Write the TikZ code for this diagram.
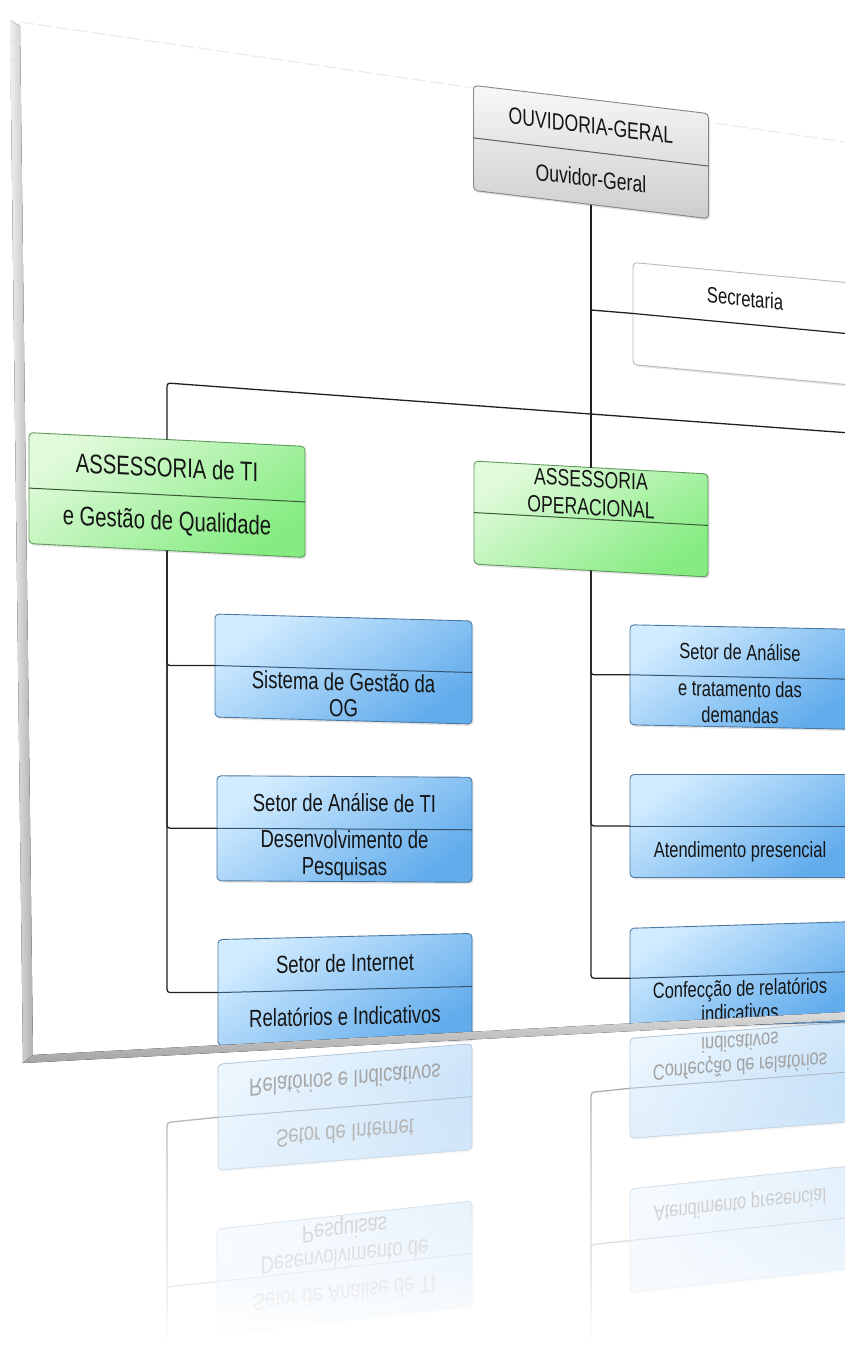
\documentclass[tikz,border=0pt]{standalone}
\usepackage{fontspec}
\setmainfont{Liberation Sans}[FakeStretch=0.75]
\usetikzlibrary{shadows}
\definecolor{txtc}{HTML}{151515}
\definecolor{linec}{HTML}{202020}
\definecolor{blueL}{HTML}{D2ECFF}
\definecolor{blueD}{HTML}{62ACEC}
\definecolor{blueB}{HTML}{4A78A2}
\definecolor{greenL}{HTML}{E0FADA}
\definecolor{greenD}{HTML}{86EC82}
\definecolor{greenB}{HTML}{5E985A}
\definecolor{grayL}{HTML}{F8F8F8}
\definecolor{grayD}{HTML}{CDCDCD}
\definecolor{grayB}{HTML}{858585}
\tikzset{
  conn/.style={draw=linec, line width=1.3pt, rounded corners=3pt},
  txtbase/.style={transform shape, align=center, text=txtc, inner sep=0pt},
  fsz/.style 2 args={txt/.style={txtbase, font=\fontsize{#1}{#2}\selectfont}},
  shadowed/.style={drop shadow={opacity=0.2, shadow xshift=1.5pt, shadow yshift=-2pt}},
  bluebox/.style={
    box/.style={shadowed, draw=blueB, line width=0.9pt, rounded corners=4pt,
      top color=blueL, bottom color=blueD, shading angle=35, inner sep=0pt, outer sep=0pt},
    divider/.style={draw=blueB!70!black, line width=1pt}},
  greenbox/.style={
    box/.style={shadowed, draw=greenB, line width=0.9pt, rounded corners=4pt,
      top color=greenL, bottom color=greenD, shading angle=35, inner sep=0pt, outer sep=0pt},
    divider/.style={draw=greenB!60!black, line width=1pt}},
  graybox/.style={
    box/.style={shadowed, draw=grayB, line width=0.9pt, rounded corners=4pt,
      top color=grayL, bottom color=grayD, inner sep=0pt, outer sep=0pt},
    divider/.style={draw=grayB!70!black, line width=1pt}},
  whitebox/.style={
    box/.style={shadowed, draw=gray!55, line width=0.9pt, rounded corners=4pt,
      fill=white, inner sep=0pt, outer sep=0pt},
    divider/.style={draw=linec, line width=1.2pt}},
}
% #1 name, #2 x, #3 y, #4 width, #5 height, #6 yslant, #7 styles, #8 top text, #9 bottom text
\newcommand{\obox}[9]{%
  \begin{scope}[shift={(#2,#3)}, yslant=#6, #7]
    \node[box, transform shape, minimum width=#4pt, minimum height=#5pt] (#1) at (0,0) {};
    \draw[divider] (-#4/2,0) -- (#4/2,0);
    \if\relax\detokenize{#8}\relax\else\node[txt] (#1t) at (0,-#5/4) {#8};\fi
    \if\relax\detokenize{#9}\relax\else\node[txt] (#1b) at (0,#5/4) {#9};\fi
  \end{scope}}
% boxes in the lower part (also shown in the reflection)
\newcommand{\lowerboxes}[1]{%
  \obox{#1sa}{344.5}{829}{255}{105}{-0.006}{bluebox,fsz={24.7}{27}}{Setor de Análise de TI}{Desenvolvimento de\\Pesquisas}%
  \obox{#1si}{345}{989.5}{254}{106}{0.024}{bluebox,fsz={24.7}{27}}{Setor de Internet}{Relatórios e Indicativos}%
  \obox{#1at}{740}{826}{220}{103}{0}{bluebox,fsz={22}{25}}{}{Atendimento presencial}%
  \obox{#1cr}{740}{975}{220}{100}{0.03}{bluebox,fsz={22}{24}}{}{Confecção de relatórios\\indicativos}%
}
\begin{document}
\begin{tikzpicture}[x=1pt, y=-1pt]
  \fill[white] (0,0) rectangle (845,1345);
  \useasboundingbox (0,0) rectangle (845,1345);
  % faint top edge of the sheet
  \draw[gray!15, line width=1.2pt, dash pattern=on 14pt off 4pt] (20,22) -- (845,142);
  % main chart
  \obox{ouv}{591}{152}{235}{105}{-0.12}{graybox,fsz={23.5}{27}}{OUVIDORIA-GERAL}{Ouvidor-Geral}
  \obox{sec}{745}{324}{224}{102}{-0.094}{whitebox,fsz={22.3}{26}}{Secretaria}{}
  \obox{ti}{167}{495}{276}{111}{-0.05}{greenbox,fsz={27}{31}}{ASSESSORIA de TI}{e Gestão de Qualidade}
  \obox{aop}{591}{519}{234}{103}{-0.055}{greenbox,fsz={23.5}{28}}{ASSESSORIA\\OPERACIONAL}{}
  \obox{sg}{343.5}{669}{257}{103}{-0.027}{bluebox,fsz={24.7}{26}}{}{Sistema de Gestão da\\OG}
  \obox{sd}{740}{677}{220}{100}{-0.02}{bluebox,fsz={22}{26}}{Setor de Análise}{e tratamento das\\demandas}
  \lowerboxes{}
  \coordinate (secj) at (591,310);
  \coordinate (busL) at (167,383);
  \coordinate (busR) at (905,437);
  \draw[conn] (ouv.south) -- (aop.north);
  \draw[conn] (secj) -- (sec.west);
  \draw[conn] (ti.north) -- (busL) -- (busR);
  \draw[conn] (ti.south) |- (sg.west);
  \draw[conn] (ti.south) |- (sa.west);
  \draw[conn] (ti.south) |- (si.west);
  \draw[conn] (aop.south) |- (sd.west);
  \draw[conn] (aop.south) |- (at.west);
  \draw[conn] (aop.south) |- (cr.west);
  % frame bevels
  \fill[left color=gray!12, right color=gray!62] (10,20) -- (20,26) -- (33,1055) -- (23,1063) -- cycle;
  \fill[top color=gray!28, bottom color=gray!72] (23,1063) -- (33,1055) -- (845,1012) -- (845,1020) -- cycle;
  % reflection, fading out downwards
  \begin{scope}
    \clip (0,1064) -- (845,1021) -- (845,1345) -- (0,1345) -- cycle;
    \begin{scope}[cm={1,0.1048,0,-1,(0pt,-2132.6pt)}, transparency group, opacity=0.4]
      \lowerboxes{r}
      \coordinate (rtiS) at (167,700);
      \coordinate (raopS) at (591,700);
      \draw[conn] (rtiS) |- (rsa.west);
      \draw[conn] (rtiS) |- (rsi.west);
      \draw[conn] (raopS) |- (rat.west);
      \draw[conn] (raopS) |- (rcr.west);
    \end{scope}
    \foreach \i in {0,...,27} {
      \fill[white, opacity=\i/28] (0,1060+\i*10) rectangle (845,1070+\i*10);
    }
    \fill[white] (0,1339) rectangle (845,1345);
  \end{scope}
\end{tikzpicture}
\end{document}
